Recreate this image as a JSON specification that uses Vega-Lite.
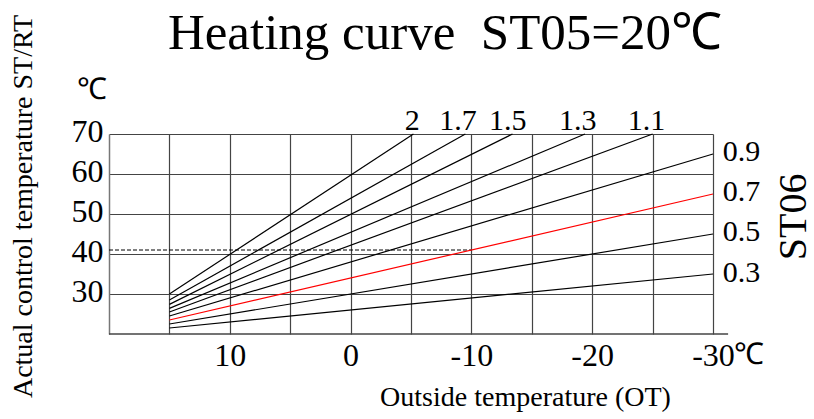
{
  "$schema": "https://vega.github.io/schema/vega-lite/v6.json",
  "width": 604,
  "height": 200,
  "autosize": {"type": "none"},
  "padding": {"left": 109, "top": 134, "right": 101, "bottom": 85},
  "background": "white",
  "title": {
    "text": "Heating curve \u00a0ST05=20℃",
    "font": "Liberation Serif",
    "fontSize": 51,
    "fontWeight": "normal",
    "color": "black",
    "anchor": "middle",
    "dx": 34,
    "offset": -46
  },
  "config": {
    "view": {"stroke": null},
    "font": "Liberation Serif"
  },
  "datasets": {
    "curves": [
      {"k": "2", "OT": 15, "T": 30}, {"k": "2", "OT": -5.2, "T": 70},
      {"k": "1.7", "OT": 15, "T": 28.5}, {"k": "1.7", "OT": -9.5, "T": 70},
      {"k": "1.5", "OT": 15, "T": 27.4}, {"k": "1.5", "OT": -13.4, "T": 70},
      {"k": "1.3", "OT": 15, "T": 26.4}, {"k": "1.3", "OT": -19.4, "T": 70},
      {"k": "1.1", "OT": 15, "T": 25.5}, {"k": "1.1", "OT": -25, "T": 70},
      {"k": "0.9", "OT": 15, "T": 24.5}, {"k": "0.9", "OT": -30, "T": 65},
      {"k": "0.7", "OT": 15, "T": 23.5}, {"k": "0.7", "OT": -30, "T": 55},
      {"k": "0.5", "OT": 15, "T": 22.5}, {"k": "0.5", "OT": -30, "T": 45},
      {"k": "0.3", "OT": 15, "T": 21.5}, {"k": "0.3", "OT": -30, "T": 35}
    ],
    "dashed": [
      {"OT": 20, "T": 41}, {"OT": -10, "T": 41}
    ],
    "baseline": [
      {"OT": 20, "OT2": -31.25, "T": 20}
    ],
    "topLabels": [
      {"lab": "2", "OT": -5.1, "T": 71},
      {"lab": "1.7", "OT": -8.9, "T": 71},
      {"lab": "1.5", "OT": -13.0, "T": 71},
      {"lab": "1.3", "OT": -18.8, "T": 71},
      {"lab": "1.1", "OT": -24.5, "T": 71}
    ],
    "rightLabels": [
      {"lab": "0.9", "OT": -30.8, "T": 65.5},
      {"lab": "0.7", "OT": -30.8, "T": 55.5},
      {"lab": "0.5", "OT": -30.8, "T": 45.5},
      {"lab": "0.3", "OT": -30.8, "T": 35.3}
    ],
    "units": [
      {"lab": "℃", "OT": 21.4, "T": 81},
      {"lab": "℃", "OT": -33.0, "T": 14.75}
    ],
    "side": [
      {"lab": "ST06", "OT": -36.7, "T": 49.3}
    ]
  },
  "encoding": {
    "x": {
      "field": "OT",
      "type": "quantitative",
      "scale": {"domain": [-30, 20], "reverse": true, "nice": false, "zero": false},
      "axis": {
        "values": [15, 10, 5, 0, -5, -10, -15, -20, -25, -30],
        "labelExpr": "datum.value % 10 == 0 ? (datum.value + '') : ''",
        "grid": true,
        "gridColor": "#444",
        "gridWidth": 1.2,
        "gridOpacity": 1,
        "ticks": false,
        "domain": false,
        "labelFont": "Liberation Serif",
        "labelFontSize": 32,
        "labelColor": "black",
        "labelPadding": 6,
        "labelFlush": false,
        "title": "Outside temperature (OT)",
        "titleFont": "Liberation Serif",
        "titleFontSize": 28,
        "titleFontWeight": "normal",
        "titleColor": "black",
        "titleX": 416,
        "titleY": 63,
        "titleAlign": "center",
        "titleBaseline": "middle"
      }
    },
    "y": {
      "field": "T",
      "type": "quantitative",
      "scale": {"domain": [20, 70], "nice": false, "zero": false},
      "axis": {
        "values": [30, 40, 50, 60, 70],
        "grid": true,
        "gridColor": "#444",
        "gridWidth": 1.2,
        "gridOpacity": 1,
        "ticks": false,
        "domain": true,
        "domainColor": "#777",
        "domainWidth": 1.5,
        "labelFont": "Liberation Serif",
        "labelFontSize": 32,
        "labelColor": "black",
        "labelPadding": 6,
        "labelOffset": -3,
        "labelFlush": false,
        "title": "Actual control temperature ST/RT",
        "titleFont": "Liberation Serif",
        "titleFontSize": 28,
        "titleFontWeight": "normal",
        "titleColor": "black",
        "titleX": -86,
        "titleY": 72,
        "titleAlign": "center",
        "titleBaseline": "middle",
        "titleAngle": -90
      }
    }
  },
  "layer": [
    {
      "data": {"name": "baseline"},
      "mark": {"type": "rule", "color": "#444", "strokeWidth": 1.5},
      "encoding": {
        "x2": {"field": "OT2"}
      }
    },
    {
      "data": {"name": "dashed"},
      "mark": {"type": "line", "color": "black", "strokeWidth": 1, "strokeDash": [4, 2]},
      "encoding": {}
    },
    {
      "data": {"name": "curves"},
      "mark": {"type": "line", "strokeWidth": 1.2},
      "encoding": {
        "detail": {"field": "k"},
        "color": {
          "field": "k",
          "type": "nominal",
          "scale": {
            "domain": ["2", "1.7", "1.5", "1.3", "1.1", "0.9", "0.7", "0.5", "0.3"],
            "range": ["black", "black", "black", "black", "black", "black", "#ff0000", "black", "black"]
          },
          "legend": null
        }
      }
    },
    {
      "data": {"name": "topLabels"},
      "mark": {"type": "text", "font": "Liberation Serif", "fontSize": 30, "align": "center", "baseline": "alphabetic", "color": "black"},
      "encoding": {"text": {"field": "lab"}}
    },
    {
      "data": {"name": "rightLabels"},
      "mark": {"type": "text", "font": "Liberation Serif", "fontSize": 30, "align": "left", "baseline": "middle", "color": "black"},
      "encoding": {"text": {"field": "lab"}}
    },
    {
      "data": {"name": "units"},
      "mark": {"type": "text", "font": "Liberation Serif", "fontSize": 30, "align": "center", "baseline": "middle", "color": "black"},
      "encoding": {"text": {"field": "lab"}}
    },
    {
      "data": {"name": "side"},
      "mark": {"type": "text", "font": "Liberation Serif", "fontSize": 40, "align": "center", "baseline": "middle", "angle": 270, "color": "black"},
      "encoding": {"text": {"field": "lab"}}
    }
  ]
}
